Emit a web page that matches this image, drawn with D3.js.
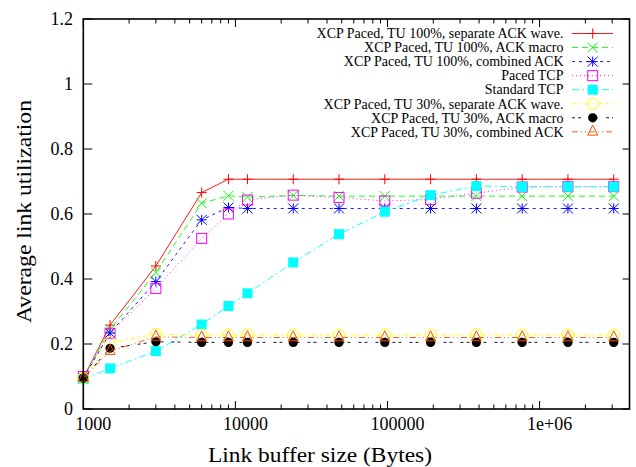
<!DOCTYPE html>
<html><head><meta charset="utf-8">
<script src="https://d3js.org/d3.v7.min.js"></script>
<style>body{margin:0;background:#fff}svg{display:block}</style>
</head><body><svg id="c" width="636" height="467" font-family="'Liberation Serif', 'DejaVu Serif', serif"></svg>
<script>
const bufferSizes = [1000,1500,3000,6000,9000,12000,24000,48000,96000,192000,384000,768000,1536000,3072000];
const sepWave100 = [0.095,0.258,0.44,0.666,0.707,0.707,0.707,0.707,0.707,0.707,0.707,0.707,0.707,0.707];
const macro100   = [0.095,0.245,0.42,0.633,0.656,0.652,0.657,0.655,0.655,0.655,0.655,0.655,0.655,0.655];
const combined100= [0.095,0.234,0.392,0.582,0.62,0.617,0.617,0.617,0.617,0.617,0.617,0.617,0.617,0.617];
const pacedTCP   = [0.1,0.233,0.371,0.525,0.6,0.643,0.658,0.651,0.64,0.645,0.664,0.683,0.684,0.684];
const standardTCP= [0.092,0.125,0.178,0.26,0.317,0.356,0.451,0.538,0.607,0.658,0.686,0.684,0.684,0.684];
const sepWave30  = [0.095,0.205,0.23,0.228,0.228,0.228,0.228,0.228,0.228,0.228,0.228,0.228,0.228,0.228];
const macro30    = [0.095,0.187,0.207,0.205,0.205,0.205,0.205,0.205,0.205,0.205,0.205,0.205,0.205,0.205];
const combined30 = [0.095,0.178,0.222,0.22,0.22,0.22,0.22,0.22,0.22,0.22,0.22,0.22,0.22,0.22];
const seriesNames = ["XCP Paced, TU 100%, separate ACK wave.","XCP Paced, TU 100%, ACK macro","XCP Paced, TU 100%, combined ACK","Paced TCP","Standard TCP","XCP Paced, TU 30%, separate ACK wave.","XCP Paced, TU 30%, ACK macro","XCP Paced, TU 30%, combined ACK"];
const seriesValues = [sepWave100,macro100,combined100,pacedTCP,standardTCP,sepWave30,macro30,combined30];
const seriesColors = ["#ff0000","#00ff00","#0000ff","#ff00ff","#00ffff","#ffff00","#000000","#ff4d00"];
const seriesDash = [null,"6,4","3,4","1,3","7,3,2,3","5,3,2,3","3,3,3,8","6,3,1,3,1,3"];
const seriesMarker = ["plus","cross","star","square","fsquare","circle","fcircle","triangle"];
const xTickValues = [1000,10000,100000,1000000];
const xTickLabels = ["1000","10000","100000","1e+06"];
const yTickValues = [0,0.2,0.4,0.6,0.8,1,1.2];
const yTickLabels = ["0","0.2","0.4","0.6","0.8","1","1.2"];

const L=83.3,R=629.5,T=19,B=409;
const svg=d3.select("#c");
const x=d3.scaleLog().domain([1000,3.9e6]).range([L,R]);
const y=d3.scaleLinear().domain([0,1.2]).range([B,T]);

const minor=[];
for(let d=1000;d<4e6;d*=10){for(let k=2;k<=9;k++){const v=d*k;if(v<3.9e6)minor.push(v);}}
const tg=svg.append("g").attr("stroke","#000").attr("stroke-width",1);
minor.forEach(v=>{const px=x(v);tg.append("line").attr("x1",px).attr("x2",px).attr("y1",B).attr("y2",B-4.5);tg.append("line").attr("x1",px).attr("x2",px).attr("y1",T).attr("y2",T+4.5);});
xTickValues.forEach((v,i)=>{const px=x(v);tg.append("line").attr("x1",px).attr("x2",px).attr("y1",B).attr("y2",B-8);tg.append("line").attr("x1",px).attr("x2",px).attr("y1",T).attr("y2",T+8);
 svg.append("text").attr("x",px+10).attr("y",430).attr("text-anchor","middle").attr("font-size",18).text(xTickLabels[i]);});
yTickValues.forEach((v,i)=>{const py=y(v);tg.append("line").attr("x1",L).attr("x2",L+9).attr("y1",py).attr("y2",py);tg.append("line").attr("x1",R).attr("x2",R-7).attr("y1",py).attr("y2",py);
 svg.append("text").attr("x",73).attr("y",py).attr("dy","0.34em").attr("text-anchor","end").attr("font-size",18).text(yTickLabels[i]);});

svg.append("text").attr("x",320).attr("y",461.5).attr("text-anchor","middle").attr("font-size",21).attr("textLength",224).attr("lengthAdjust","spacingAndGlyphs").text("Link buffer size (Bytes)");
svg.append("text").attr("transform","translate(31,211.5) rotate(-90)").attr("text-anchor","middle").attr("font-size",21).attr("textLength",223).attr("lengthAdjust","spacingAndGlyphs").text("Average link utilization");

function marker(g,type,cx,cy,col){
  const s=5;
  if(type==="plus"){g.append("path").attr("d",`M${cx-s},${cy}H${cx+s}M${cx},${cy-s}V${cy+s}`).attr("stroke",col).attr("fill","none");}
  else if(type==="cross"){g.append("path").attr("d",`M${cx-s},${cy-s}L${cx+s},${cy+s}M${cx-s},${cy+s}L${cx+s},${cy-s}`).attr("stroke",col).attr("fill","none");}
  else if(type==="star"){g.append("path").attr("d",`M${cx-s},${cy}H${cx+s}M${cx},${cy-s}V${cy+s}M${cx-s},${cy-s}L${cx+s},${cy+s}M${cx-s},${cy+s}L${cx+s},${cy-s}`).attr("stroke",col).attr("fill","none");}
  else if(type==="square"){g.append("rect").attr("x",cx-s).attr("y",cy-s).attr("width",2*s).attr("height",2*s).attr("stroke",col).attr("fill","none");}
  else if(type==="fsquare"){g.append("rect").attr("x",cx-s).attr("y",cy-s).attr("width",2*s).attr("height",2*s).attr("fill",col);}
  else if(type==="circle"){g.append("circle").attr("cx",cx).attr("cy",cy).attr("r",5.8).attr("stroke",col).attr("fill","none");}
  else if(type==="fcircle"){g.append("circle").attr("cx",cx).attr("cy",cy).attr("r",4.6).attr("fill",col);}
  else if(type==="triangle"){g.append("path").attr("d",`M${cx},${cy-6.7}L${cx+s},${cy+3.3}L${cx-s},${cy+3.3}Z`).attr("stroke",col).attr("fill","none");}
}

const line=d3.line().x((d,i)=>x(bufferSizes[i])).y(d=>y(d));
seriesValues.forEach((vals,k)=>{
  const g=svg.append("g");
  g.append("path").datum(vals).attr("d",line).attr("fill","none").attr("stroke",seriesColors[k]).attr("stroke-width",0.9).attr("stroke-dasharray",seriesDash[k]);
  vals.forEach((v,i)=>marker(g,seriesMarker[k],x(bufferSizes[i]),y(v),seriesColors[k]));
});

seriesNames.forEach((n,k)=>{
  const yy=33.5+k*14.05;
  svg.append("text").attr("x",563.5).attr("y",yy).attr("dy","0.34em").attr("text-anchor","end").attr("font-size",14).text(n);
  const g=svg.append("g");
  g.append("line").attr("x1",572).attr("x2",613).attr("y1",yy).attr("y2",yy).attr("stroke",seriesColors[k]).attr("stroke-width",0.9).attr("stroke-dasharray",seriesDash[k]);
  marker(g,seriesMarker[k],592.7,yy,seriesColors[k]);
});

svg.append("rect").attr("x",L).attr("y",T).attr("width",R-L).attr("height",B-T).attr("fill","none").attr("stroke","#000").attr("stroke-width",1.6);
</script></body></html>
